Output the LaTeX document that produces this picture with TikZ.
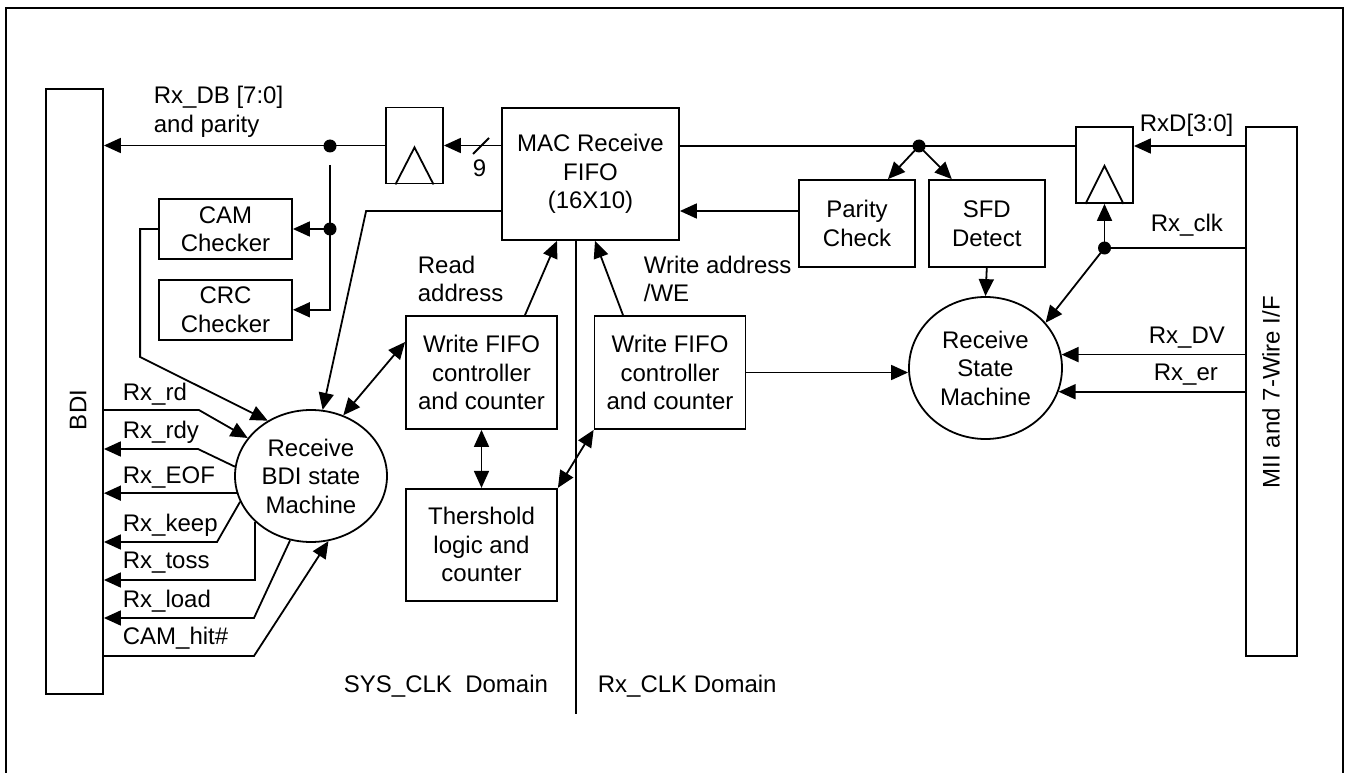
\documentclass[tikz,border=0pt]{standalone}
\usepackage{fontspec}
\setmainfont{Liberation Sans}
\usetikzlibrary{arrows.meta}
\usetikzlibrary{positioning}
\usetikzlibrary{shapes, shapes.geometric}

\begin{document}
\begin{tikzpicture}[x=1pt, y=-1pt, line width=1.8pt, font=\fontsize{24}{28.5}\selectfont,
  every node/.style={align=center, inner sep=0pt},
  blk/.style={rectangle, draw},
  fsm/.style={ellipse, draw},
  ff/.style={rectangle, draw, minimum width=57pt, minimum height=76pt},
  dot/.style={circle, fill, minimum size=13pt},
  sig/.style={-{Triangle[length=17pt, width=15pt]}},
  bisig/.style={{Triangle[length=17pt, width=15pt]}-{Triangle[length=17pt, width=15pt]}},
  lbl/.style={anchor=base west},
  node distance=19pt]

\useasboundingbox (0,0) rectangle (1345,773);
\clip (0,0) rectangle (1345,773);
\draw[line width=2pt] (6,8.5) rectangle (1343,800);

\node[blk, minimum width=57pt, minimum height=605pt] (bdi) at (74.5,391.5) {};
\node[rotate=90] (bditxt) at (78,410) {BDI};
\node[blk, minimum width=51pt, minimum height=529pt] (mii) at (1271.5,391.5) {};
\node[rotate=90] (miitxt) at (1271,392) {MII and 7-Wire I/F};

\node[blk, minimum width=177pt, minimum height=132pt] (fifo) at (590.5,174) {MAC Receive\\FIFO\\(16X10)};
\node[ff] (ffL) at (414.5,145.5) {};
\node[ff] (ffR) at (1104.5,165) {};
\node[blk, minimum width=116pt, minimum height=87pt] (parity) at (857,223.5) {Parity\\Check};
\node[blk, minimum width=116pt, minimum height=87pt, right=12pt of parity] (sfd) {SFD\\Detect};
\node[fsm, minimum width=153pt, minimum height=142pt] (rsm) at (985.5,368) {Receive\\State\\Machine};
\node[blk, minimum width=151pt, minimum height=113pt] (wfcL) at (481.5,372.5) {Write FIFO\\controller\\and counter};
\node[blk, minimum width=151pt, minimum height=113pt] (wfcR) at (670,372.5) {Write FIFO\\controller\\and counter};
\node[blk, minimum width=151pt, minimum height=112pt, below=58pt of wfcL] (thr) {Thershold\\logic and\\counter};
\node[fsm, minimum width=152pt, minimum height=132pt] (bsm) at (311,476) {Receive\\BDI state\\Machine};
\node[blk, minimum width=133pt, minimum height=60pt] (cam) at (225.5,229) {CAM\\Checker};
\node[blk, minimum width=133pt, minimum height=60pt, below=of cam] (crc) {CRC\\Checker};

\draw (ffL.south) ++(-19,0) -- ++(19,-37) -- ++(19,37);
\draw (ffR.south) ++(-19,0) -- ++(19,-38) -- ++(19,38);

\node[dot] (j1) at (330,146) {};
\node[dot] (j2) at (330,229) {};
\node[dot] (j3) at (919,146) {};
\node[dot] (jclk) at (1104.5,248) {};
\coordinate (tap) at (330,165);

\draw[sig] (fifo.west |- ffL) -- (ffL.east);
\draw (473,154) -- (489,138);
\node (nbits) at (479.5,168.5) {9};
\draw[sig] (ffL.west) -- (bdi.east |- ffL.west);
\draw (tap) -- (j2.center);
\draw[sig] (j2.center) -- (cam.east);
\draw[sig] (j2.center) |- (crc.east);
\draw[sig] (cam.west) -- ++(-18,0) -- ++(0,128) -- (bsm.128);
\draw[sig] ([yshift=-37pt]fifo.west) -- ++(-135,0) -- (bsm.80);
\draw[sig] ([yshift=12.5pt]parity.west) -- ([yshift=-37pt]fifo.east);
\draw[bisig] ([yshift=30.5pt]wfcL.west) -- (bsm.62);
\draw[sig] ([xshift=43.5pt]wfcL.north) -- ([xshift=-33.5pt]fifo.south);
\draw[sig] ([xshift=-47pt]wfcR.north) -- ([xshift=4.5pt]fifo.south);
\draw ([xshift=-14.5pt]fifo.south) -- ++(0,473);
\draw[bisig] (wfcL.south) -- (thr.north);
\draw[bisig] (thr.north east) -- (wfcR.south west);
\draw[sig] (wfcR.east) -- (rsm.west |- wfcR.east);

\draw (fifo.east |- j3) -- (ffR.west |- j3);
\draw[sig] (j3.center) -- ([xshift=31pt]parity.north);
\draw[sig] (j3.center) -- ([xshift=-35pt]sfd.north);
\draw[sig] (mii.west |- j3) -- (ffR.east |- j3);
\draw[sig] (sfd.south) -- (rsm.north);
\draw (mii.west |- jclk) -- (jclk.center);
\draw[sig] (jclk.center) -- (ffR.south);
\draw[sig] (jclk.center) -- (rsm.37);
\draw[sig] (mii.west |- rsm.10) -- (rsm.10);
\draw[sig] (mii.west |- rsm.-18) -- (rsm.-18);

\draw[sig] (bdi.east |- 0,410) -- ++(95,0) -- (bsm.149);
\draw[sig] (bsm.173) -- (198,449) -- (bdi.east |- 0,449);
\draw[sig] (bsm.193) -- (bdi.east |- bsm.193);
\draw[sig] (bsm.200) -- (217,542) -- (bdi.east |- 0,542);
\draw[sig] (bsm.219) |- (bdi.east |- 0,580);
\draw[sig] (bsm.252) -- (254,618) -- (bdi.east |- 0,618);
\draw[sig] (bdi.east |- 0,656) -- (254,656) -- (bsm.285);

\node[lbl] (rdlbl) at (122,400) {Rx\_rd};
\node[lbl] (rdylbl) at (122,438) {Rx\_rdy};
\node[lbl] (eoflbl) at (122,483) {Rx\_EOF};
\node[lbl] (keeplbl) at (122,531) {Rx\_keep};
\node[lbl] (tosslbl) at (122,568) {Rx\_toss};
\node[lbl] (loadlbl) at (122,607) {Rx\_load};
\node[lbl] (hitlbl) at (122,644) {CAM\_hit\#};

\node[anchor=north west, align=left] (dblbl) at (153,85.5) {Rx\_DB [7:0]\\and parity};
\node[anchor=north west, align=left] (rdaddr) at (417,255) {Read\\address};
\node[anchor=north west, align=left] (wraddr) at (643,255) {Write address\\/WE};
\node[lbl] (sysdom) at (343,692) {SYS\_CLK\ \ Domain};
\node[lbl] (rxdom) at (597,692) {Rx\_CLK Domain};
\node[lbl] (rxdlbl) at (1139,132) {RxD[3:0]};
\node[lbl] (clklbl) at (1150,232) {Rx\_clk};
\node[lbl] (dvlbl) at (1148,343) {Rx\_DV};
\node[lbl] (erlbl) at (1153,380) {Rx\_er};

\end{tikzpicture}
\end{document}
